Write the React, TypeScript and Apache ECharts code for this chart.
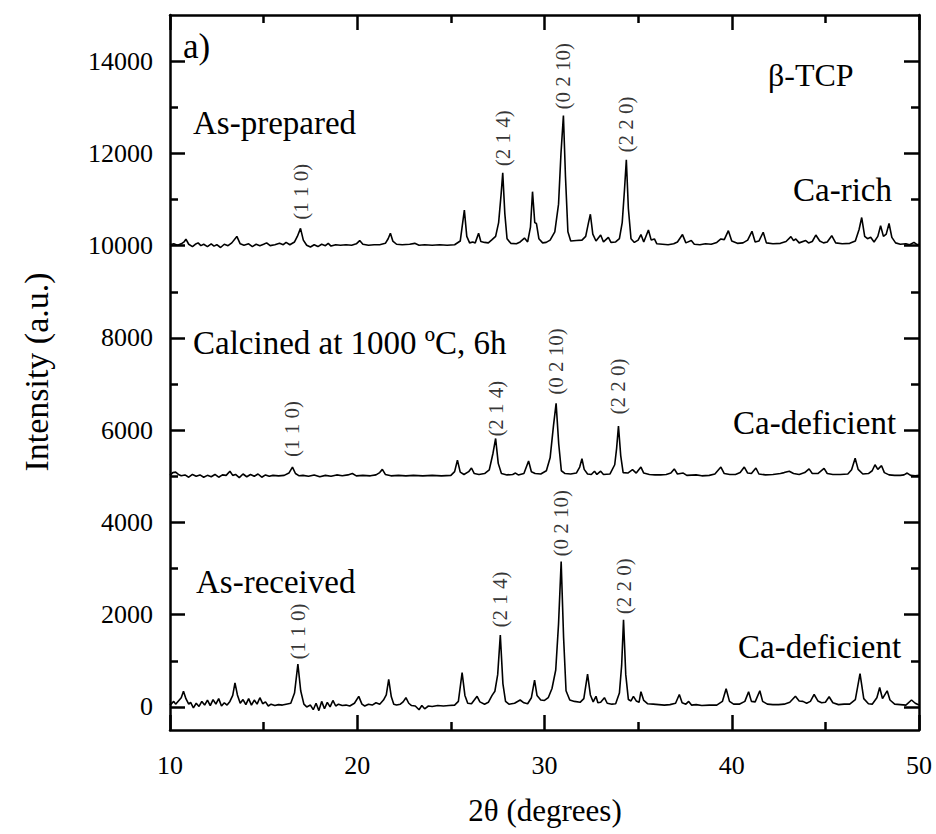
import React, { useEffect, useRef } from "react";
import * as echarts from "echarts";

// ---- data ----
const X_MIN = 10;
const X_MAX = 50;
const Y_MIN = -500;
const Y_MAX = 15000;
const Y_MAJOR = [0, 2000, 4000, 6000, 8000, 10000, 12000, 14000];
const Y_MINOR = [1000, 3000, 5000, 7000, 9000, 11000, 13000];

// vertical offsets of the stacked patterns
const OFFSET_RECEIVED = 0;
const OFFSET_CALCINED = 5000;
const OFFSET_PREPARED = 10000;

// As-received (relative intensity)
const AS_RECEIVED: [number, number][] = [
  [10.0, 40], [10.2, 120], [10.3, 60], [10.45, 130], [10.6, 200], [10.72, 340], [10.85, 180], [11.0, 60],
  [11.1, 100], [11.25, -20], [11.4, 80], [11.55, 10], [11.7, 120], [11.85, 40], [12.0, 150], [12.15, 30],
  [12.3, 160], [12.45, 60], [12.6, 180], [12.75, 20], [12.9, 90], [13.05, 40], [13.2, 120], [13.35, 250],
  [13.47, 520], [13.6, 260], [13.75, 80], [13.9, 160], [14.05, 50], [14.2, 180], [14.35, 40], [14.5, 150],
  [14.65, 60], [14.8, 200], [14.95, 70], [15.1, 110], [15.25, 20], [15.4, 60], [15.6, 30], [15.8, 50],
  [16.0, 40], [16.2, 60], [16.45, 80], [16.65, 300], [16.83, 930], [16.98, 350], [17.15, 60], [17.3, 0],
  [17.5, 40], [17.65, -60], [17.8, 80], [17.95, -80], [18.1, 120], [18.25, -40], [18.4, 100], [18.55, 0],
  [18.7, 140], [18.85, 20], [19.0, 60], [19.2, 30], [19.4, 40], [19.6, 20], [19.85, 80], [20.08, 230],
  [20.25, 60], [20.4, 20], [20.6, 60], [20.8, 40], [21.0, 90], [21.2, 60], [21.4, 150], [21.55, 260],
  [21.68, 600], [21.82, 220], [21.95, 60], [22.1, 40], [22.3, 60], [22.45, 110], [22.6, 200], [22.75, 80],
  [22.9, 30], [23.1, 20], [23.3, -60], [23.45, 30], [23.6, -40], [23.8, 20], [24.0, 10], [24.3, 30],
  [24.6, 20], [24.9, 30], [25.2, 40], [25.4, 120], [25.6, 745], [25.75, 250], [25.9, 80], [26.1, 70],
  [26.4, 230], [26.55, 110], [26.8, 60], [27.0, 100], [27.2, 250], [27.35, 340], [27.5, 700], [27.64, 1560],
  [27.78, 500], [27.92, 120], [28.1, 60], [28.4, 80], [28.7, 150], [28.9, 90], [29.1, 70], [29.3, 200],
  [29.47, 580], [29.6, 250], [29.8, 150], [30.0, 140], [30.2, 200], [30.4, 400], [30.6, 800], [30.75, 1800],
  [30.89, 3150], [31.02, 1500], [31.15, 350], [31.35, 150], [31.6, 120], [31.9, 100], [32.1, 180], [32.3, 710],
  [32.45, 260], [32.6, 110], [32.75, 230], [32.85, 90], [33.0, 100], [33.2, 200], [33.35, 80], [33.6, 60],
  [33.8, 70], [34.0, 300], [34.12, 900], [34.22, 1890], [34.34, 700], [34.48, 160], [34.62, 130], [34.75, 230],
  [34.9, 130], [35.05, 100], [35.15, 330], [35.3, 140], [35.5, 70], [35.8, 60], [36.1, 50], [36.4, 40],
  [36.7, 50], [37.0, 80], [37.2, 270], [37.35, 90], [37.55, 60], [37.7, 120], [37.85, 40], [38.1, 50],
  [38.4, 30], [38.8, 40], [39.2, 40], [39.5, 120], [39.7, 395], [39.88, 120], [40.1, 60], [40.4, 60],
  [40.7, 120], [40.9, 330], [41.05, 120], [41.25, 110], [41.5, 350], [41.65, 120], [41.9, 60], [42.2, 50],
  [42.5, 50], [42.8, 60], [43.1, 100], [43.4, 230], [43.6, 130], [43.8, 120], [44.0, 80], [44.2, 120],
  [44.4, 270], [44.6, 130], [44.8, 90], [45.0, 100], [45.2, 220], [45.4, 90], [45.7, 50], [46.0, 60],
  [46.3, 60], [46.6, 160], [46.85, 720], [47.05, 180], [47.3, 70], [47.5, 60], [47.75, 200], [47.9, 420],
  [48.05, 180], [48.3, 350], [48.45, 150], [48.7, 60], [49.0, 50], [49.3, 40], [49.6, 150], [49.8, 80],
  [50.0, 40],
];

// Calcined at 1000 ºC, 6h (relative intensity)
const CALCINED: [number, number][] = [
  [10.0, 20], [10.15, 80], [10.3, 90], [10.45, 40], [10.6, 10], [10.8, 30], [11.0, -20], [11.2, 40],
  [11.4, 0], [11.6, 30], [11.8, -20], [12.0, 20], [12.2, -10], [12.4, 40], [12.6, -20], [12.8, 30],
  [13.0, 20], [13.2, 110], [13.35, 20], [13.5, 40], [13.7, -30], [13.9, 50], [14.1, -10], [14.3, 40],
  [14.5, 0], [14.7, 50], [14.9, -20], [15.1, 30], [15.3, 0], [15.5, 20], [15.8, 10], [16.1, 20],
  [16.35, 70], [16.54, 200], [16.7, 60], [16.9, 10], [17.1, 20], [17.4, 0], [17.7, 30], [18.0, -10],
  [18.3, 20], [18.6, 0], [18.9, 30], [19.2, 10], [19.5, 30], [19.74, 60], [19.95, 10], [20.3, 20],
  [20.7, 10], [21.0, 30], [21.2, 80], [21.34, 150], [21.5, 40], [21.8, 10], [22.2, 20], [22.6, 10],
  [23.0, 20], [23.5, 10], [24.0, 20], [24.5, 10], [25.0, 20], [25.2, 100], [25.35, 350], [25.5, 90],
  [25.7, 40], [25.95, 100], [26.1, 180], [26.25, 60], [26.5, 40], [26.8, 60], [27.05, 140], [27.25, 500],
  [27.39, 820], [27.53, 280], [27.7, 60], [28.0, 30], [28.3, 40], [28.45, 70], [28.6, 30], [28.9, 60],
  [29.15, 330], [29.3, 100], [29.5, 60], [29.8, 50], [30.1, 120], [30.3, 400], [30.48, 1100], [30.62, 1580],
  [30.76, 700], [30.9, 120], [31.1, 60], [31.4, 50], [31.7, 70], [31.88, 200], [32.0, 380], [32.12, 150],
  [32.3, 50], [32.5, 40], [32.67, 110], [32.8, 40], [33.0, 110], [33.15, 40], [33.5, 50], [33.75, 250],
  [33.85, 600], [33.95, 1090], [34.07, 450], [34.2, 80], [34.45, 70], [34.7, 145], [34.9, 70], [35.15, 200],
  [35.3, 70], [35.6, 40], [35.9, 30], [36.2, 30], [36.5, 40], [36.75, 70], [36.93, 160], [37.1, 50],
  [37.41, 70], [37.6, 20], [38.1, 30], [38.4, 10], [38.8, 20], [39.1, 50], [39.42, 200], [39.6, 60],
  [39.9, 40], [40.2, 40], [40.45, 80], [40.67, 200], [40.85, 70], [41.05, 60], [41.29, 180], [41.45, 50],
  [41.8, 30], [42.2, 40], [42.6, 60], [42.8, 80], [43.07, 110], [43.3, 60], [43.6, 40], [43.9, 80],
  [44.13, 160], [44.3, 60], [44.6, 60], [44.93, 170], [45.1, 60], [45.4, 40], [45.8, 40], [46.2, 50],
  [46.4, 140], [46.59, 390], [46.75, 150], [47.0, 50], [47.3, 60], [47.5, 120], [47.65, 250], [47.8, 150],
  [48.0, 230], [48.15, 80], [48.4, 30], [48.7, 20], [49.0, 20], [49.2, 30], [49.37, 70], [49.55, 20],
  [49.8, 10], [50.0, 20],
];

// As-prepared (relative intensity)
const AS_PREPARED: [number, number][] = [
  [10.0, 20], [10.2, 40], [10.4, 10], [10.6, 40], [10.75, 80], [10.85, 140], [11.0, 30], [11.2, -20],
  [11.35, 30], [11.5, 60], [11.65, 0], [11.8, 30], [12.0, -20], [12.2, 40], [12.35, -10], [12.5, 20],
  [12.7, -40], [12.9, 30], [13.1, 0], [13.3, 60], [13.57, 200], [13.75, 40], [13.95, 10], [14.2, 40],
  [14.4, -20], [14.6, 30], [14.8, 0], [15.0, 30], [15.16, 60], [15.35, 0], [15.6, 20], [15.85, 50],
  [16.05, 20], [16.2, 70], [16.4, 20], [16.65, 80], [16.8, 200], [16.97, 375], [17.12, 120], [17.3, 10],
  [17.5, -30], [17.7, 20], [17.9, -20], [18.1, 30], [18.3, 0], [18.45, 50], [18.6, -10], [18.85, 20],
  [19.1, 10], [19.4, 20], [19.7, 10], [19.95, 40], [20.13, 110], [20.3, 30], [20.6, 10], [20.9, 20],
  [21.2, 20], [21.5, 50], [21.65, 150], [21.77, 270], [21.9, 100], [22.1, 30], [22.4, 20], [22.8, 30],
  [23.07, 50], [23.3, 10], [23.6, 20], [24.0, 10], [24.4, 20], [24.8, 10], [25.2, 20], [25.5, 100],
  [25.72, 770], [25.85, 200], [26.0, 60], [26.17, 80], [26.3, 60], [26.48, 270], [26.6, 90], [26.8, 70],
  [27.0, 60], [27.2, 130], [27.39, 200], [27.55, 500], [27.68, 1100], [27.77, 1580], [27.88, 700], [28.0, 150],
  [28.2, 50], [28.5, 40], [28.7, 80], [28.93, 165], [29.1, 80], [29.25, 400], [29.36, 1170], [29.48, 500],
  [29.57, 480], [29.7, 150], [29.9, 60], [30.09, 70], [30.3, 120], [30.55, 300], [30.75, 900], [30.88, 2000],
  [31.01, 2820], [31.12, 1500], [31.25, 300], [31.4, 100], [31.7, 110], [32.0, 120], [32.2, 200], [32.35, 500],
  [32.45, 680], [32.58, 250], [32.75, 100], [33.0, 230], [33.15, 80], [33.41, 180], [33.55, 70], [33.8, 80],
  [34.0, 150], [34.15, 500], [34.27, 1200], [34.37, 1860], [34.48, 800], [34.62, 150], [34.8, 70], [35.0, 120],
  [35.15, 240], [35.3, 80], [35.55, 340], [35.7, 120], [35.87, 145], [36.0, 40], [36.3, 30], [36.6, 20],
  [36.9, 40], [37.1, 80], [37.37, 240], [37.55, 60], [37.84, 110], [38.0, 30], [38.3, 20], [38.6, 40],
  [38.9, 30], [39.2, 70], [39.42, 145], [39.6, 130], [39.82, 325], [40.0, 100], [40.3, 50], [40.6, 60],
  [40.85, 120], [41.08, 310], [41.25, 80], [41.45, 100], [41.68, 290], [41.85, 60], [42.2, 40], [42.6, 50],
  [42.9, 90], [43.16, 195], [43.3, 110], [43.42, 145], [43.6, 60], [43.95, 110], [44.1, 60], [44.3, 90],
  [44.49, 230], [44.7, 100], [44.9, 60], [45.1, 80], [45.34, 215], [45.55, 60], [45.9, 40], [46.3, 50],
  [46.6, 100], [46.8, 350], [46.94, 610], [47.1, 200], [47.25, 150], [47.42, 180], [47.6, 80], [47.8, 200],
  [47.95, 430], [48.1, 200], [48.25, 250], [48.4, 480], [48.55, 180], [48.75, 60], [49.0, 30], [49.3, 40],
  [49.5, 20], [49.73, 70], [49.9, 20], [50.0, 30],
];

// Miller-index labels: [2θ, intensity at label foot, text]
const PEAK_LABELS: [number, number, string][] = [
  [16.97, 10560, "(1 1 0)"],
  [27.77, 11720, "(2 1 4)"],
  [31.01, 12950, "(0 2 10)"],
  [34.37, 12020, "(2 2 0)"],
  [16.54, 5420, "(1 1 0)"],
  [27.39, 5860, "(2 1 4)"],
  [30.62, 6770, "(0 2 10)"],
  [33.95, 6340, "(2 2 0)"],
  [16.83, 1030, "(1 1 0)"],
  [27.64, 1720, "(2 1 4)"],
  [30.89, 3260, "(0 2 10)"],
  [34.22, 2010, "(2 2 0)"],
];

const FONT = "'Liberation Serif', 'Times New Roman', 'DejaVu Serif', serif";

const shift = (pts: [number, number][], off: number) => pts.map(([x, y]) => [x, y + off]);

export default function App() {
  const ref = useRef<HTMLDivElement>(null);

  useEffect(() => {
    if (!ref.current) return;
    const chart = echarts.init(ref.current, undefined, { renderer: "svg" });

    const axisLine = { show: true, onZero: false, lineStyle: { color: "#000", width: 2.5 } };
    const majorTick = { show: true, inside: true, length: 15, lineStyle: { color: "#000", width: 2.5 } };
    const minorTickStyle = { show: true, inside: true, length: 8, lineStyle: { color: "#000", width: 2.5 } };

    const xBase = {
      type: "value" as const,
      min: X_MIN,
      max: X_MAX,
      interval: 10,
      axisLine,
      axisTick: majorTick,
      minorTick: { show: true, splitNumber: 2, length: 8, lineStyle: { color: "#000", width: 2.5 } },
      splitLine: { show: false },
    };

    const yMajorBase = (position: "left" | "right", labels: boolean) => ({
      type: "value" as const,
      position,
      min: Y_MIN,
      max: Y_MAX,
      axisLine,
      axisTick: { ...majorTick, customValues: Y_MAJOR },
      axisLabel: labels
        ? {
            show: true,
            customValues: Y_MAJOR,
            color: "#000",
            fontFamily: FONT,
            fontSize: 26,
            margin: 17,
            formatter: (v: number) => String(v),
          }
        : { show: false },
      splitLine: { show: false },
    });
    const yMinorBase = (position: "left" | "right") => ({
      type: "value" as const,
      position,
      min: Y_MIN,
      max: Y_MAX,
      axisLine: { show: false, onZero: false },
      axisTick: { ...minorTickStyle, customValues: Y_MINOR },
      axisLabel: { show: false },
      splitLine: { show: false },
    });

    const lineSeries = (name: string, pts: [number, number][], off: number) => ({
      name,
      type: "line" as const,
      data: shift(pts, off),
      showSymbol: false,
      symbol: "none",
      lineStyle: { color: "#000", width: 1.6 },
      xAxisIndex: 0,
      yAxisIndex: 0,
      silent: true,
      z: 3,
    });

    const annot = (text: string, x: number, y: number, size: number) => ({
      type: "text" as const,
      x,
      y,
      style: {
        text,
        fill: "#000",
        fontFamily: FONT,
        fontSize: size,
        textAlign: "left",
        textVerticalAlign: "middle",
      },
    });

    chart.setOption({
      animation: false,
      backgroundColor: "#fff",
      textStyle: { fontFamily: FONT },
      grid: { left: 170, right: 17, top: 15, bottom: 104, containLabel: false },
      xAxis: [
        {
          ...xBase,
          position: "bottom",
          axisLabel: {
            show: true,
            color: "#000",
            fontFamily: FONT,
            fontSize: 26,
            margin: 22,
            formatter: (v: number) => String(v),
          },
        },
        { ...xBase, position: "top", axisLabel: { show: false } },
      ],
      yAxis: [
        yMajorBase("left", true),
        yMinorBase("left"),
        yMajorBase("right", false),
        yMinorBase("right"),
      ],
      series: [
        lineSeries("As-received", AS_RECEIVED, OFFSET_RECEIVED),
        lineSeries("Calcined", CALCINED, OFFSET_CALCINED),
        lineSeries("As-prepared", AS_PREPARED, OFFSET_PREPARED),
        {
          name: "hkl",
          type: "scatter",
          xAxisIndex: 0,
          yAxisIndex: 0,
          symbolSize: 2,
          itemStyle: { color: "rgba(0,0,0,0)" },
          silent: true,
          z: 5,
          data: PEAK_LABELS.map(([x, y, t]) => ({ value: [x, y], name: t })),
          label: {
            show: true,
            position: "inside",
            rotate: 90,
            align: "left",
            verticalAlign: "middle",
            formatter: (p: any) => p.name,
            color: "#000",
            fontFamily: FONT,
            fontSize: 21,
          },
        },
      ],
      graphic: [
        annot("a)", 183, 46, 35),
        annot("β-TCP", 768, 75, 32),
        annot("As-prepared", 193, 123, 33),
        annot("Ca-rich", 793, 190, 33),
        annot("Calcined at 1000 ºC, 6h", 193, 343, 33),
        annot("Ca-deficient", 733, 423, 33),
        annot("As-received", 196, 582, 33),
        annot("Ca-deficient", 738, 647, 33),
        {
          type: "text",
          x: 36,
          y: 372,
          rotation: Math.PI / 2,
          style: {
            text: "Intensity (a.u.)",
            fill: "#000",
            fontFamily: FONT,
            fontSize: 34,
            textAlign: "center",
            textVerticalAlign: "middle",
          },
        },
        {
          type: "text",
          x: 545,
          y: 810,
          style: {
            text: "2θ (degrees)",
            fill: "#000",
            fontFamily: FONT,
            fontSize: 31,
            textAlign: "center",
            textVerticalAlign: "middle",
          },
        },
      ],
    });

    return () => chart.dispose();
  }, []);

  return (
    <div
      ref={ref}
      style={{ position: "fixed", left: 0, top: 0, width: 936, height: 834, background: "#fff" }}
    />
  );
}
